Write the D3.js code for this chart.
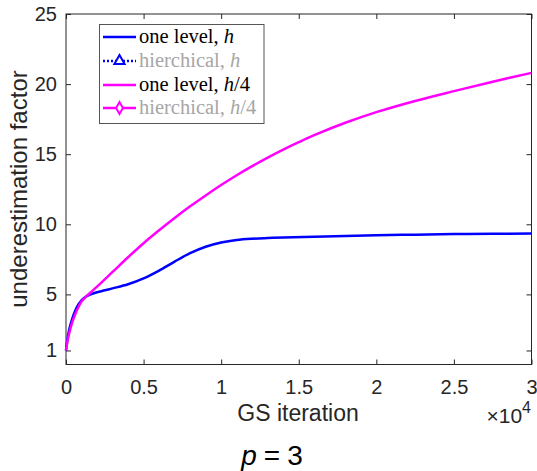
<html>
<meta charset="utf-8">
<head>
	<title>underestimation</title>
	<script src="https://cdn.jsdelivr.net/npm/d3@7"></script>
</head>
<body style="margin:0;background:#fff">
<svg id="chart" width="537" height="471"></svg>

<script>
	// GS iteration, in units of 10^4
	var iterOne = [0, 0.01, 0.02, 0.04, 0.06, 0.08, 0.1, 0.13, 0.16, 0.2, 0.25, 0.3, 0.4, 0.5, 0.6, 0.7, 0.8, 0.9, 1.0, 1.1, 1.2, 1.3, 1.4, 1.6, 1.8, 2.0, 2.25, 2.5, 2.75, 3.0];
	var oneLevelH = [1, 1.85, 2.45, 3.25, 3.85, 4.28, 4.58, 4.85, 5.0, 5.15, 5.29, 5.43, 5.72, 6.14, 6.7, 7.34, 7.94, 8.4, 8.7, 8.88, 8.97, 9.02, 9.06, 9.12, 9.17, 9.22, 9.26, 9.3, 9.32, 9.34];

	var iterQuarter = [0, 0.01, 0.02, 0.04, 0.06, 0.08, 0.1, 0.13, 0.16, 0.2, 0.3, 0.4, 0.5, 0.6, 0.7, 0.8, 0.9, 1.0, 1.1, 1.2, 1.3, 1.4, 1.5, 1.6, 1.8, 2.0, 2.25, 2.5, 2.75, 3.0];
	var oneLevelQuarter = [1, 1.7, 2.2, 3.0, 3.6, 4.1, 4.5, 4.85, 5.15, 5.55, 6.6, 7.65, 8.65, 9.57, 10.45, 11.28, 12.06, 12.8, 13.5, 14.15, 14.76, 15.33, 15.86, 16.36, 17.24, 18.0, 18.8, 19.5, 20.17, 20.8];

	var xTicks = [0, 0.5, 1, 1.5, 2, 2.5, 3];
	var yTicks = [1, 5, 10, 15, 20, 25];

	var legendNames = ["one level, ", "hierchical, ", "one level, ", "hierchical, "];
	var legendMath = ["h", "h", "h", "h"];
	var legendSuffix = ["", "", "/4", "/4"];

	var svg = d3.select("#chart");
	var axisColor = "#262626";
	var sans = "'Liberation Sans', Arial, sans-serif";

	var x = d3.scaleLinear().domain([0, 3]).range([66, 531.5]);
	var y = d3.scaleLinear().domain([0, 25]).range([364.5, 14]);

	// axes, ticks on all four sides
	svg.append("g")
		.attr("transform", "translate(0,364.5)")
		.call(d3.axisBottom(x).tickValues(xTicks).tickSizeInner(-5).tickSizeOuter(0).tickPadding(15)
			.tickFormat(function (d) { return d; }));
	svg.append("g")
		.attr("transform", "translate(0,14)")
		.call(d3.axisTop(x).tickValues(xTicks).tickSizeInner(-5).tickSizeOuter(0).tickFormat(""));
	svg.append("g")
		.attr("transform", "translate(66,0)")
		.call(d3.axisLeft(y).tickValues(yTicks).tickSizeInner(-5).tickSizeOuter(0).tickPadding(9));
	svg.append("g")
		.attr("transform", "translate(531.5,0)")
		.call(d3.axisRight(y).tickValues(yTicks).tickSizeInner(-5).tickSizeOuter(0).tickFormat(""));

	svg.selectAll(".domain").remove();
	svg.selectAll(".tick line").attr("stroke", axisColor);
	svg.selectAll(".tick text")
		.attr("fill", axisColor)
		.style("font-family", sans)
		.style("font-size", "20px");

	svg.append("rect")
		.attr("x", 66).attr("y", 14)
		.attr("width", 465.5).attr("height", 350.5)
		.attr("fill", "none").attr("stroke", axisColor).attr("stroke-width", 1);

	// curves
	var line = d3.line()
		.x(function (d) { return x(d[0]); })
		.y(function (d) { return y(d[1]); })
		.curve(d3.curveCatmullRom.alpha(0.5));

	svg.append("path")
		.datum(d3.zip(iterOne, oneLevelH))
		.attr("d", line)
		.attr("fill", "none").attr("stroke", "#0000ff").attr("stroke-width", 2.5);
	svg.append("path")
		.datum(d3.zip(iterQuarter, oneLevelQuarter))
		.attr("d", line)
		.attr("fill", "none").attr("stroke", "#ff00ff").attr("stroke-width", 2.5);

	// labels
	svg.append("text")
		.attr("x", 298).attr("y", 421)
		.attr("text-anchor", "middle")
		.attr("fill", axisColor)
		.style("font-family", sans)
		.style("font-size", "23px")
		.text("GS iteration");

	svg.append("text")
		.attr("transform", "translate(27,189) rotate(-90)")
		.attr("text-anchor", "middle")
		.attr("fill", axisColor)
		.style("font-family", sans)
		.style("font-size", "24px")
		.text("underestimation factor");

	var mult = svg.append("text")
		.attr("x", 531).attr("y", 423)
		.attr("text-anchor", "end")
		.attr("fill", axisColor)
		.style("font-family", sans)
		.style("font-size", "21px");
	mult.append("tspan").text("\u00d710");
	mult.append("tspan").attr("dy", -10).style("font-size", "16px").text("4");

	var title = svg.append("text")
		.attr("x", 272).attr("y", 465)
		.attr("text-anchor", "middle")
		.attr("fill", "#000")
		.style("font-family", sans)
		.style("font-size", "28px");
	title.append("tspan").style("font-style", "italic").text("p");
	title.append("tspan").attr("dx", 7).text("=");
	title.append("tspan").attr("dx", 7).text("3");

	// legend
	var legend = svg.append("g");
	legend.append("rect")
		.attr("x", 99.5).attr("y", 24.5)
		.attr("width", 164.5).attr("height", 99)
		.attr("fill", "#fff").attr("stroke", "#555").attr("stroke-width", 1);

	var rowY = [37, 61, 85, 108];
	var rowColor = ["#0000ff", "#0000ff", "#ff00ff", "#ff00ff"];
	var rowDash = [null, "2,2", null, null];
	var rowText = ["#000", "#a6a6a6", "#000", "#a6a6a6"];

	legendNames.forEach(function (name, i) {
		legend.append("line")
			.attr("x1", 103).attr("x2", 136)
			.attr("y1", rowY[i]).attr("y2", rowY[i])
			.attr("stroke", rowColor[i]).attr("stroke-width", 2.5)
			.attr("stroke-dasharray", rowDash[i]);
		var t = legend.append("text")
			.attr("x", 139).attr("y", rowY[i] + 6)
			.attr("fill", rowText[i])
			.style("font-family", "'Liberation Serif', 'DejaVu Serif', serif")
			.style("font-size", "20.5px");
		t.append("tspan").text(name);
		t.append("tspan").style("font-style", "italic").text(legendMath[i]);
		t.append("tspan").text(legendSuffix[i]);
	});

	// markers
	legend.append("path")
		.attr("d", d3.symbol().type(d3.symbolTriangle).size(45))
		.attr("transform", "translate(119.5," + rowY[1] + ")")
		.attr("fill", "#fff").attr("stroke", "#0000ff").attr("stroke-width", 2);
	legend.append("path")
		.attr("d", d3.symbol().type(d3.symbolDiamond).size(40))
		.attr("transform", "translate(119.5," + rowY[3] + ")")
		.attr("fill", "#fff").attr("stroke", "#ff00ff").attr("stroke-width", 2);
</script>
</body>
</html>
